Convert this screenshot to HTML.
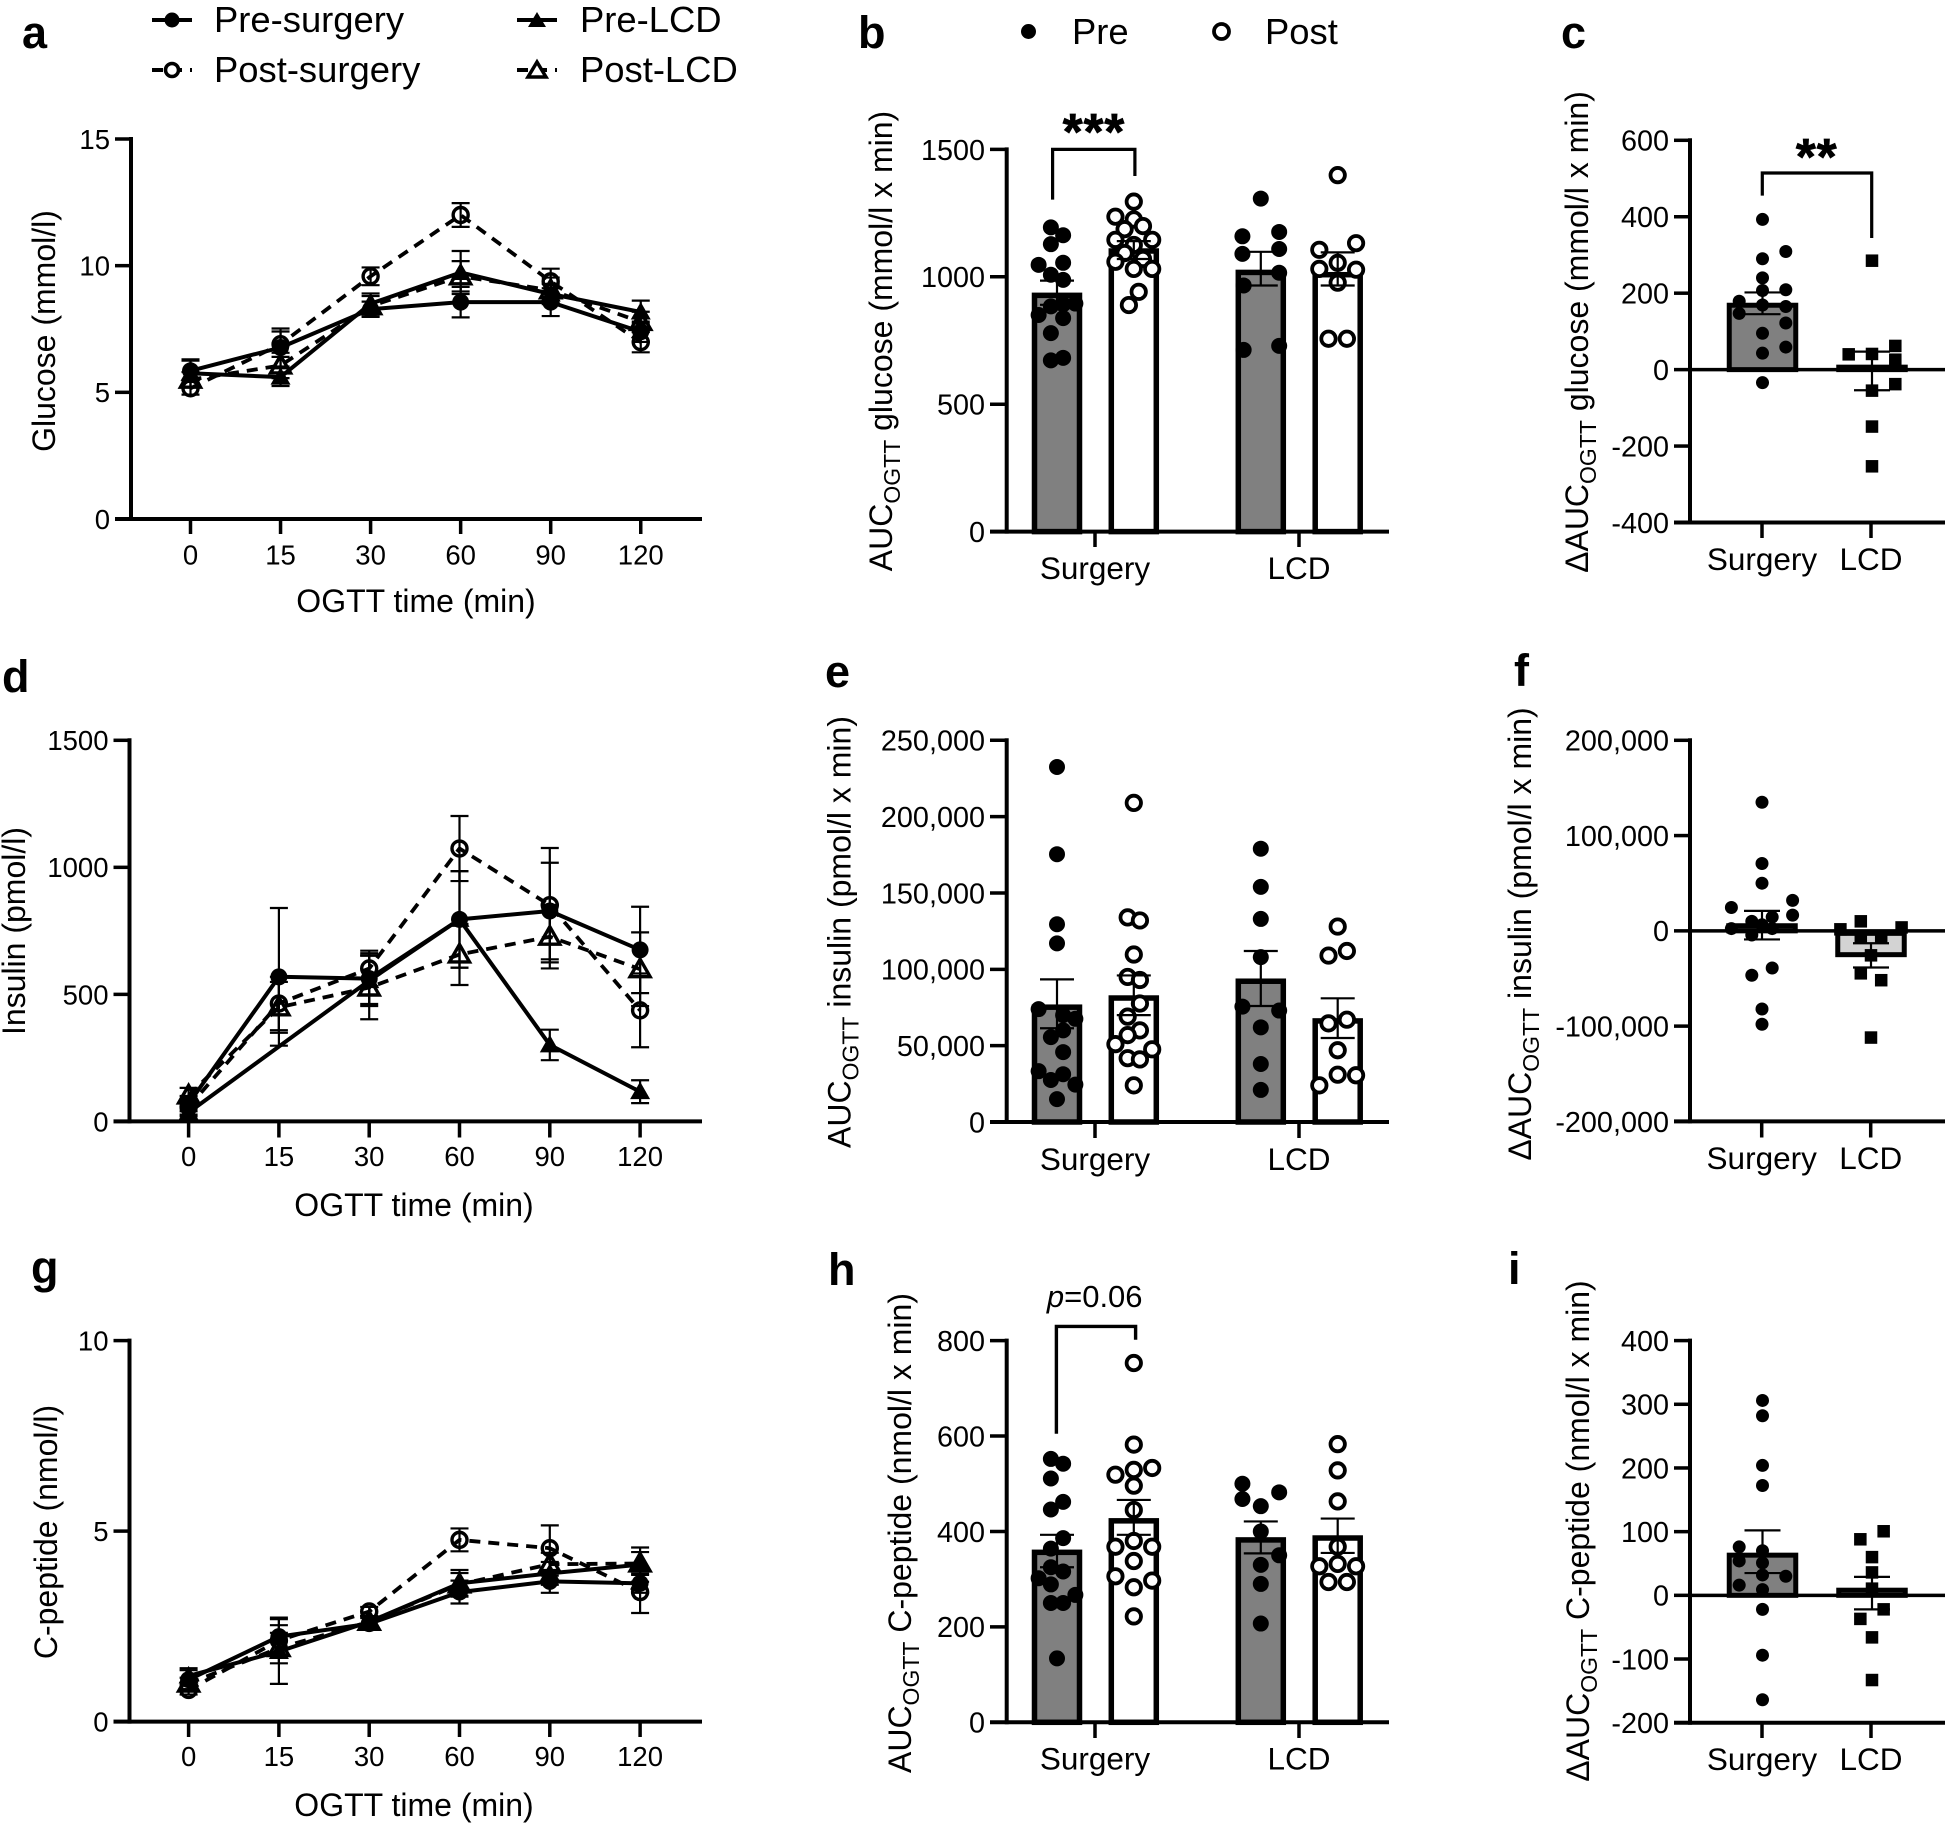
<!DOCTYPE html>
<html lang="en">
<head>
<meta charset="utf-8">
<title>OGTT glucose, insulin and C-peptide panels</title>
<style>
html,body{margin:0;padding:0;background:#fff;}
svg{display:block;}
text{font-family:"Liberation Sans",Arial,sans-serif;fill:#000;}
.letter{font-size:45px;font-weight:bold;}
.title{font-size:32px;}
.legend{font-size:36.4px;}
.stars{font-size:51px;font-weight:bold;text-anchor:middle;letter-spacing:1px;stroke:#000;stroke-width:0.8px;}
</style>
</head>
<body>
<svg id="fig" xmlns="http://www.w3.org/2000/svg" width="1947" height="1824" viewBox="0 0 1947 1824">
  <rect width="1947" height="1824" fill="#fff"/>

  <g>
    <text class="letter" x="22" y="48">a</text>
    <text class="letter" x="858" y="48">b</text>
    <text class="letter" x="1561" y="48">c</text>
    <text class="letter" x="2" y="692">d</text>
    <text class="letter" x="825" y="687">e</text>
    <text class="letter" x="1514" y="686">f</text>
    <text class="letter" x="31" y="1283">g</text>
    <text class="letter" x="828" y="1285">h</text>
    <text class="letter" x="1508" y="1284">i</text>
  </g>

  <g>
    <g>
      <line x1="152" y1="20" x2="192" y2="20" stroke="#000" stroke-width="4"/>
      <circle cx="172" cy="20" r="7.5" fill="#000"/>
      <text class="legend" x="214" y="32">Pre-surgery</text>
    </g>
    <g>
      <line x1="152" y1="70" x2="192" y2="70" stroke="#000" stroke-width="4" stroke-dasharray="11 8"/>
      <circle cx="172" cy="70" r="6.5" fill="#fff" stroke="#000" stroke-width="3.5"/>
      <text class="legend" x="214" y="82">Post-surgery</text>
    </g>
    <g>
      <line x1="517" y1="20" x2="557" y2="20" stroke="#000" stroke-width="4"/>
      <polygon points="537,12 546,27 528,27" fill="#000"/>
      <text class="legend" x="580" y="32">Pre-LCD</text>
    </g>
    <g>
      <line x1="517" y1="70" x2="557" y2="70" stroke="#000" stroke-width="4" stroke-dasharray="11 8"/>
      <polygon points="537,62 546,77 528,77" fill="#fff" stroke="#000" stroke-width="3.5"/>
      <text class="legend" x="580" y="82">Post-LCD</text>
    </g>
  </g>

  <g>
    <circle cx="1028.5" cy="31.5" r="7.5" fill="#000"/>
    <text class="legend" x="1072" y="44">Pre</text>
    <circle cx="1221.5" cy="31.5" r="7.5" fill="#fff" stroke="#000" stroke-width="3.8"/>
    <text class="legend" x="1265" y="44">Post</text>
  </g>

  <g>
    <text class="title" text-anchor="middle" transform="translate(55 331) rotate(-90)">Glucose (mmol/l)</text>
    <text class="title" text-anchor="middle" transform="translate(25 931) rotate(-90)">Insulin (pmol/l)</text>
    <text class="title" text-anchor="middle" transform="translate(57 1532) rotate(-90)">C-peptide (nmol/l)</text>
    <text class="title" text-anchor="middle" x="416" y="612">OGTT time (min)</text>
    <text class="title" text-anchor="middle" x="414" y="1216">OGTT time (min)</text>
    <text class="title" text-anchor="middle" x="414" y="1816">OGTT time (min)</text>

    <text class="title" text-anchor="middle" transform="translate(892 341) rotate(-90)">AUC<tspan font-size="23" dy="8">OGTT</tspan><tspan dy="-8"> glucose (mmol/l x min)</tspan></text>
    <text class="title" text-anchor="middle" transform="translate(850.5 932) rotate(-90)">AUC<tspan font-size="23" dy="8">OGTT</tspan><tspan dy="-8"> insulin (pmol/l x min)</tspan></text>
    <text class="title" text-anchor="middle" transform="translate(911 1533) rotate(-90)">AUC<tspan font-size="23" dy="8">OGTT</tspan><tspan dy="-8"> C-peptide (nmol/l x min)</tspan></text>

    <text class="title" text-anchor="middle" transform="translate(1588 332) rotate(-90)">ΔAUC<tspan font-size="23" dy="8">OGTT</tspan><tspan dy="-8"> glucose (mmol/l x min)</tspan></text>
    <text class="title" text-anchor="middle" transform="translate(1531 934) rotate(-90)">ΔAUC<tspan font-size="23" dy="8">OGTT</tspan><tspan dy="-8"> insulin (pmol/l x min)</tspan></text>
    <text class="title" text-anchor="middle" transform="translate(1589 1531) rotate(-90)">ΔAUC<tspan font-size="23" dy="8">OGTT</tspan><tspan dy="-8"> C-peptide (nmol/l x min)</tspan></text>
  </g>

  <g id="charts"></g>

  <g>
    <polyline points="1052.6,199.6 1052.6,149.4 1134.9,149.4 1134.9,176" fill="none" stroke="#000" stroke-width="3.2"/>
    <text class="stars" x="1094" y="149">***</text>
    <polyline points="1762.3,195.6 1762.3,173 1871.7,173 1871.7,238" fill="none" stroke="#000" stroke-width="3.2"/>
    <text class="stars" x="1816.7" y="174">**</text>
    <polyline points="1056.4,1433.7 1056.4,1326.4 1135.6,1326.4 1135.6,1339.8" fill="none" stroke="#000" stroke-width="3.4"/>
    <text font-size="31" text-anchor="middle" x="1094.7" y="1307"><tspan font-style="italic">p</tspan>=0.06</text>
  </g>
</svg>

<script>
/* ---------- shared categories ---------- */
const timeLabels = ['0', '15', '30', '60', '90', '120'];
const barGroupLabels = ['Surgery', 'LCD'];

/* ---------- a: glucose time course ---------- */
const glucoseTicks = [0, 5, 10, 15];
const glucosePreSurgery = [5.85, 6.77, 8.28, 8.56, 8.56, 7.39];
const glucosePostSurgery = [5.16, 6.9, 9.58, 12.0, 9.38, 6.98];
const glucosePreLcd = [5.75, 5.6, 8.5, 9.73, 8.88, 8.17];
const glucosePostLcd = [5.5, 6.06, 8.4, 9.58, 9.03, 7.78];
const glucosePreSurgerySem = [0.4, 0.75, 0.3, 0.6, 0.55, 0.4];
const glucosePostSurgerySem = [0.25, 0.5, 0.35, 0.47, 0.5, 0.4];
const glucosePreLcdSem = [0.55, 0.35, 0.4, 0.85, 0.4, 0.45];
const glucosePostLcdSem = [0.3, 0.5, 0.4, 0.6, 0.5, 0.4];

/* ---------- d: insulin time course ---------- */
const insulinTicks = [0, 500, 1000, 1500];
const insulinPreSurgery = [70, 569, 562, 795, 828, 675];
const insulinPostSurgery = [57, 464, 602, 1074, 851, 437];
const insulinPreLcd = [35, null, 554, 795, 301, 117];
const insulinPostLcd = [102, 449, 527, 657, 727, 599];
const insulinPreSurgerySem = [30, 271, 100, 190, 190, 170];
const insulinPostSurgerySem = [30, 105, 70, 128, 225, 145];
const insulinPreLcdSem = [15, null, 100, 190, 60, 45];
const insulinPostLcdSem = [30, 100, 125, 120, 125, 145];

/* ---------- g: C-peptide time course ---------- */
const cpepTicks = [0, 5, 10];
const cpepPreSurgery = [1.1, 2.23, 2.57, 3.4, 3.68, 3.63];
const cpepPostSurgery = [0.83, 2.13, 2.89, 4.77, 4.55, 3.4];
const cpepPreLcd = [1.2, 1.84, 2.62, 3.63, 3.89, 4.12];
const cpepPostLcd = [1.0, 1.93, 2.62, 3.6, 4.13, 4.15];
const cpepPreSurgerySem = [0.25, 0.5, 0.15, 0.3, 0.3, 0.25];
const cpepPostSurgerySem = [0.12, 0.4, 0.12, 0.3, 0.6, 0.55];
const cpepPreLcdSem = [0.2, 0.85, 0.15, 0.35, 0.3, 0.45];
const cpepPostLcdSem = [0.15, 0.4, 0.15, 0.3, 0.3, 0.3];

/* ---------- b: AUC glucose ---------- */
const aucGlucoseTicks = [0, 500, 1000, 1500];
const aucGlucoseMeans = [938, 1112, 1028, 1019];
const aucGlucoseErrHigh = [985, 1140, 1098, 1096];
const aucGlucoseErrLow = [890, 1070, 966, 966];
const aucGlucosePreSurgery = [1194, 1163, 1128, 1047, 1055, 1008, 988, 884, 892, 895, 850, 838, 779, 672, 682];
const aucGlucosePreSurgerySwarm = [-0.5, 0.5, -0.5, -1.5, 0.5, -0.5, 0.5, -0.5, 0.5, 1.5, -1.5, 0.5, -0.5, -0.5, 0.5];
const aucGlucosePostSurgery = [1295, 1236, 1225, 1199, 1187, 1145, 1145, 1125, 1093, 1059, 1070, 1031, 1031, 941, 889];
const aucGlucosePostSurgerySwarm = [0, -1.5, 0, 0.75, -0.75, -1.5, 1.5, 0, -0.75, -1.5, 0.75, 0, 1.5, 0.4, -0.4];
const aucGlucosePreLcd = [1307, 1159, 1176, 1090, 1109, 1016, 966, 713, 729];
const aucGlucosePreLcdSwarm = [0, -1.5, 1.5, -1.5, 1.5, 1.5, -1.4, -1.4, 1.5];
const aucGlucosePostLcd = [1399, 1106, 1132, 1055, 1031, 1028, 977, 757, 757];
const aucGlucosePostLcdSwarm = [0, -1.5, 1.5, 0, -1.5, 1.5, 0, -0.75, 0.75];

/* ---------- e: AUC insulin ---------- */
const aucInsulinTicks = [0, 50000, 100000, 150000, 200000, 250000];
const aucInsulinMeans = [77000, 83000, 94000, 68000];
const aucInsulinErrHigh = [93400, 96000, 112000, 81000];
const aucInsulinErrLow = [61400, 70000, 76000, 55000];
const aucInsulinPreSurgery = [232500, 175400, 129500, 117000, 73900, 70000, 67600, 60000, 55600, 45800, 33300, 31300, 27500, 24500, 15000];
const aucInsulinPreSurgerySwarm = [0, 0, 0, 0, -1.5, 0.5, 1.5, 0.5, -0.5, 0.5, -1.5, 0.5, -0.5, 1.5, 0];
const aucInsulinPostSurgery = [209000, 134000, 132000, 109700, 95000, 93000, 77600, 69000, 60000, 56900, 51000, 47600, 41800, 41000, 24000];
const aucInsulinPostSurgerySwarm = [0, -0.5, 0.5, 0, -0.5, 0.5, 0.5, -0.5, 0.5, -0.5, -1.5, 1.5, -0.5, 0.5, 0];
const aucInsulinPreLcd = [179000, 154000, 133000, 108000, 75600, 73000, 62000, 38000, 21000];
const aucInsulinPreLcdSwarm = [0, 0, 0, 0, -1.5, 1.5, 0, 0, 0];
const aucInsulinPostLcd = [128000, 112000, 109000, 64600, 67000, 47000, 31000, 30600, 24000];
const aucInsulinPostLcdSwarm = [0, 0.75, -0.75, -0.75, 0.75, 0, 0, 1.5, -1.5];

/* ---------- h: AUC C-peptide ---------- */
const aucCpepTicks = [0, 200, 400, 600, 800];
const aucCpepMeans = [362, 428, 388, 392];
const aucCpepErrHigh = [393, 466, 421, 427];
const aucCpepErrLow = [325, 393, 354, 355];
const aucCpepPreSurgery = [552, 542, 511, 462, 446, 386, 364, 325, 316, 302, 289, 267, 250, 250, 134];
const aucCpepPreSurgerySwarm = [-0.5, 0.5, -0.5, 0.5, -0.5, 0.5, -0.5, -0.5, 0.5, -1.5, -0.5, 1.5, -0.5, 0.5, 0];
const aucCpepPostSurgery = [753, 582, 519, 529, 533, 496, 445, 380, 368, 368, 338, 306, 297, 283, 222];
const aucCpepPostSurgerySwarm = [0, 0, -1.5, 0, 1.5, 0, 0, 0, -1.5, 1.5, 0, -1.5, 1.5, 0, 0];
const aucCpepPreLcd = [500, 468, 482, 453, 400, 350, 330, 290, 207];
const aucCpepPreLcdSwarm = [-1.5, -1.5, 1.5, 0, 0, 1.5, 0, 0, 0];
const aucCpepPostLcd = [583, 528, 463, 368, 332, 327, 327, 294, 294];
const aucCpepPostLcdSwarm = [0, 0, 0, 0, 0, -1.5, 1.5, -0.75, 0.75];

/* ---------- c: delta AUC glucose ---------- */
const deltaGlucoseTicks = [-400, -200, 0, 200, 400, 600];
const deltaGlucoseMeans = [175, 13];
const deltaGlucoseErrHigh = [202, 47];
const deltaGlucoseErrLow = [145, -54];
const deltaGlucoseSurgery = [393, 309, 290, 240, 207, 209, 179, 169, 165, 147, 122, 95, 59, 43, -34];
const deltaGlucoseSurgerySwarm = [0, 1, 0, 0, 0, 1, -1, 0, 1, -1, 1, 0, 1, 0, 0];
const deltaGlucoseLcd = [285, 40, 41, 62, 26, -38, -55, -149, -253];
const deltaGlucoseLcdSwarm = [0, -1, 0, 1, 1, 1, 0, 0, 0];

/* ---------- f: delta AUC insulin ---------- */
const deltaInsulinTicks = [-200000, -100000, 0, 100000, 200000];
const deltaInsulinMeans = [8000, -25000];
const deltaInsulinErrHigh = [21000, -13000];
const deltaInsulinErrLow = [-9000, -38500];
const deltaInsulinSurgery = [135000, 70700, 50000, 32000, 24500, 16500, 14500, 10000, 6400, 2400, 2400, -4400, -39000, -46600, -82000, -98000];
const deltaInsulinSurgerySwarm = [0, 0, 0, 3, -3, 3, 1, -1, 0, 1, -3, -1, 1, -1, 0, 0];
const deltaInsulinLcd = [10000, 1600, 3600, -6800, -6800, -25700, -44600, -51800, -112000];
const deltaInsulinLcdSwarm = [-1, -3, 3, -1, 1, 0, -1, 1, 0];

/* ---------- i: delta AUC C-peptide ---------- */
const deltaCpepTicks = [-200, -100, 0, 100, 200, 300, 400];
const deltaCpepMeans = [67, 12];
const deltaCpepErrHigh = [102, 29];
const deltaCpepErrLow = [35, -22];
const deltaCpepSurgery = [306, 282, 204, 172.5, 76, 70, 54, 51, 32, 30, 16, 9, -22, -94, -164];
const deltaCpepSurgerySwarm = [0, 0, 0, 0, -1, 0, -1, 0, 0, 1, -1, 0, 0, 0, 0];
const deltaCpepLcd = [100.6, 88, 60, 36, 10.5, -22, -37, -66, -133];
const deltaCpepLcdSwarm = [0.5, -0.5, 0, 0, 0, 0.5, -0.5, 0, 0];

/* ---------- drawing helpers ---------- */
const NS = 'http://www.w3.org/2000/svg';
const chartsRoot = document.getElementById('charts');

function make(tag, attrs, parent, text) {
  const node = document.createElementNS(NS, tag);
  for (const key in attrs) node.setAttribute(key, attrs[key]);
  if (text !== undefined) node.textContent = text;
  parent.appendChild(node);
  return node;
}

function linearScale(domMin, domMax, pxBottom, pxTop) {
  return function (v) { return pxBottom + (v - domMin) / (domMax - domMin) * (pxTop - pxBottom); };
}

function formatTick(v) { return Math.abs(v) >= 10000 ? v.toLocaleString('en-US') : String(v); }

function drawAxes(group, box, ticks, xPositions, xLabels) {
  const yScale = box.y;
  const minVal = ticks[0];
  const maxVal = ticks[ticks.length - 1];
  const yAxis = make('line', { x1: box.axisX, x2: box.axisX, y1: yScale(maxVal) - 2, y2: yScale(minVal) + 2, stroke: '#000', 'stroke-width': 4 }, group);
  
  
  const xAxis = make('line', { x1: box.tickLeft, x2: box.xEnd, y1: yScale(minVal), y2: yScale(minVal), stroke: '#000', 'stroke-width': 4 }, group);
  
  
  ticks.forEach(function (tick) {
    const py = yScale(tick);
    const tickMark = make('line', { x1: box.tickLeft, x2: box.axisX, y1: py, y2: py, stroke: '#000', 'stroke-width': 3.5 }, group);
    
    
    const label = make('text', { x: box.tickLeft - 5, y: py + box.yLabelSize * 0.36, 'text-anchor': 'end', 'font-size': box.yLabelSize }, group, formatTick(tick));
    
    
    if (tick === 0 && minVal < 0) {
      const zeroLine = make('line', { x1: box.axisX, x2: box.xEnd, y1: py, y2: py, stroke: '#000', 'stroke-width': 3.5 }, group);
      
      
      group.appendChild(zeroLine);
    }
  });
  xPositions.forEach(function (px, i) {
    const tickMark = make('line', { x1: px, x2: px, y1: yScale(minVal), y2: box.tickBottom, stroke: '#000', 'stroke-width': 3.5 }, group);
    
    
    const label = make('text', { x: px, y: box.xLabelBase, 'text-anchor': 'middle', 'font-size': box.xLabelSize }, group, xLabels[i]);
    
    
  });
}

function drawErrorBar(group, px, yHigh, yLow, capHalf, width, name) {
  const stem = make('line', { x1: px, x2: px, y1: yHigh, y2: yLow, stroke: '#000', 'stroke-width': width }, group);
  
  
  const capTop = make('line', { x1: px - capHalf, x2: px + capHalf, y1: yHigh, y2: yHigh, stroke: '#000', 'stroke-width': width }, group);
  
  
  const capBottom = make('line', { x1: px - capHalf, x2: px + capHalf, y1: yLow, y2: yLow, stroke: '#000', 'stroke-width': width }, group);
  
  
}

function drawTimeSeries(group, box, xOf, series) {
  const seriesGroup = make('g', {}, group);
  
  
  const points = [];
  series.values.forEach(function (v, i) {
    if (v !== null) points.push(xOf(i).toFixed(1) + ',' + box.y(v).toFixed(1));
  });
  const line = make('polyline', { points: points.join(' '), fill: 'none', stroke: '#000', 'stroke-width': series.dashed ? 3.8 : 4, 'stroke-dasharray': series.dashed ? '11 8' : 'none', 'stroke-linejoin': 'round' }, seriesGroup);
  
  
  series.values.forEach(function (v, i) {
    if (v === null) return;
    const px = xOf(i);
    const py = box.y(v);
    const sem = series.sem[i];
    drawErrorBar(seriesGroup, px, box.y(v + sem), box.y(v - sem), 9, 2.2, series.name);
    let marker;
    const fill = series.open ? 'none' : '#000';
    const stroke = series.open ? '#000' : 'none';
    if (series.shape === 'circle') {
      marker = make('circle', { cx: px, cy: py, r: series.open ? 7.5 : 8.5, fill: fill, stroke: stroke, 'stroke-width': 3.4 }, seriesGroup);
    } else {
      const tri = (px) + ',' + (py - 10) + ' ' + (px + 10) + ',' + (py + 7.5) + ' ' + (px - 10) + ',' + (py + 7.5);
      marker = make('polygon', { points: tri, fill: fill, stroke: stroke, 'stroke-width': 3.4 }, seriesGroup);
    }
    
    
  });
}

function drawTimePanel(name, box, ticks, seriesList) {
  const group = make('g', {}, chartsRoot);
  
  
  const xOf = function (i) { return box.firstX + i * box.stepX; };
  const xPositions = timeLabels.map(function (_, i) { return xOf(i); });
  seriesList.forEach(function (s) { drawTimeSeries(group, box, xOf, s); });
  drawAxes(group, box, ticks, xPositions, timeLabels);
}

function drawBarPanel(name, box, ticks, tickPositions, bars) {
  const group = make('g', {}, chartsRoot);
  
  
  const zeroY = box.y(0);
  bars.forEach(function (bar) {
    const top = Math.min(box.y(bar.mean), zeroY);
    const bottom = Math.max(box.y(bar.mean), zeroY);
    const sw = box.barStroke;
    const rect = make('rect', { x: bar.cx - box.barWidth / 2 + sw / 2, y: top + sw / 2, width: box.barWidth - sw, height: Math.max(bottom - top - sw / 2, 0), fill: bar.fill, stroke: '#000', 'stroke-width': sw }, group);
    
    
  });
  drawAxes(group, box, ticks, tickPositions, barGroupLabels);
  bars.forEach(function (bar) {
    bar.points.forEach(function (v, i) {
      const px = bar.cx + bar.swarm[i] * box.swarmUnit;
      const py = box.y(v);
      let dot;
      if (bar.marker === 'square') {
        dot = make('rect', { x: px - 6.25, y: py - 6.25, width: 12.5, height: 12.5, fill: '#000' }, group);
      } else if (bar.marker === 'open') {
        dot = make('circle', { cx: px, cy: py, r: box.dotRadius - 0.8, fill: '#fff', stroke: '#000', 'stroke-width': 3.8 }, group);
      } else {
        dot = make('circle', { cx: px, cy: py, r: box.dotRadius, fill: '#000' }, group);
      }
      
      
    });
    drawErrorBar(group, bar.cx, box.y(bar.errHigh), box.y(bar.errLow), box.capHalf, 2.2, bar.name);
  });
}

function fourBars(means, high, low, groups) {
  const ids = ['pre-surgery', 'post-surgery', 'pre-lcd', 'post-lcd'];
  const centers = [1057, 1133.8, 1260.8, 1337.7];
  return ids.map(function (id, i) {
    const pre = i % 2 === 0;
    return { name: id, cx: centers[i], mean: means[i], errHigh: high[i], errLow: low[i], fill: pre ? '#808080' : '#fff', marker: pre ? 'filled' : 'open', points: groups[i][0], swarm: groups[i][1] };
  });
}

function twoBars(means, high, low, surgery, surgerySwarm, lcd, lcdSwarm, cxLeft, cxRight, lcdFill, leftFill) {
  return [
    { name: 'surgery', cx: cxLeft, mean: means[0], errHigh: high[0], errLow: low[0], fill: leftFill, marker: 'filled', points: surgery, swarm: surgerySwarm },
    { name: 'lcd', cx: cxRight, mean: means[1], errHigh: high[1], errLow: low[1], fill: lcdFill, marker: 'square', points: lcd, swarm: lcdSwarm }
  ];
}

function fourSeries(pre, post, preLcd, postLcd, preSem, postSem, preLcdSem, postLcdSem) {
  return [
    { name: 'pre-surgery', values: pre, sem: preSem, dashed: false, open: false, shape: 'circle' },
    { name: 'post-surgery', values: post, sem: postSem, dashed: true, open: true, shape: 'circle' },
    { name: 'pre-lcd', values: preLcd, sem: preLcdSem, dashed: false, open: false, shape: 'triangle' },
    { name: 'post-lcd', values: postLcd, sem: postLcdSem, dashed: true, open: true, shape: 'triangle' }
  ];
}

/* ---------- panels ---------- */
drawTimePanel('glucose-time-course-chart',
  { axisX: 131, tickLeft: 115, xEnd: 702, tickBottom: 534, xLabelBase: 564.5, xLabelSize: 27.5, yLabelSize: 27.5, firstX: 190.5, stepX: 90.05, y: linearScale(0, 15, 519, 139) },
  glucoseTicks,
  fourSeries(glucosePreSurgery, glucosePostSurgery, glucosePreLcd, glucosePostLcd, glucosePreSurgerySem, glucosePostSurgerySem, glucosePreLcdSem, glucosePostLcdSem));

drawTimePanel('insulin-time-course-chart',
  { axisX: 129.5, tickLeft: 113.5, xEnd: 702, tickBottom: 1137.5, xLabelBase: 1166, xLabelSize: 27.5, yLabelSize: 27.5, firstX: 188.6, stepX: 90.3, y: linearScale(0, 1500, 1121.4, 740.3) },
  insulinTicks,
  fourSeries(insulinPreSurgery, insulinPostSurgery, insulinPreLcd, insulinPostLcd, insulinPreSurgerySem, insulinPostSurgerySem, insulinPreLcdSem, insulinPostLcdSem));

drawTimePanel('c-peptide-time-course-chart',
  { axisX: 129.5, tickLeft: 113.5, xEnd: 702, tickBottom: 1737, xLabelBase: 1766, xLabelSize: 27.5, yLabelSize: 27.5, firstX: 188.6, stepX: 90.3, y: linearScale(0, 10, 1721.6, 1340.6) },
  cpepTicks,
  fourSeries(cpepPreSurgery, cpepPostSurgery, cpepPreLcd, cpepPostLcd, cpepPreSurgerySem, cpepPostSurgerySem, cpepPreLcdSem, cpepPostLcdSem));

const aucLayout = { axisX: 1006.7, tickLeft: 990, xEnd: 1389, xLabelSize: 31.5, yLabelSize: 28.8, barWidth: 50.5, barStroke: 5.5, swarmUnit: 12.25, dotRadius: 8, capHalf: 17 };

drawBarPanel('auc-glucose-chart',
  Object.assign({}, aucLayout, { tickBottom: 547, xLabelBase: 579, y: linearScale(0, 1500, 531.6, 149.4) }),
  aucGlucoseTicks, [1095, 1299],
  fourBars(aucGlucoseMeans, aucGlucoseErrHigh, aucGlucoseErrLow, [
    [aucGlucosePreSurgery, aucGlucosePreSurgerySwarm],
    [aucGlucosePostSurgery, aucGlucosePostSurgerySwarm],
    [aucGlucosePreLcd, aucGlucosePreLcdSwarm],
    [aucGlucosePostLcd, aucGlucosePostLcdSwarm]
  ]));

drawBarPanel('auc-insulin-chart',
  Object.assign({}, aucLayout, { tickBottom: 1138, xLabelBase: 1170, y: linearScale(0, 250000, 1122, 740.3) }),
  aucInsulinTicks, [1095, 1299],
  fourBars(aucInsulinMeans, aucInsulinErrHigh, aucInsulinErrLow, [
    [aucInsulinPreSurgery, aucInsulinPreSurgerySwarm],
    [aucInsulinPostSurgery, aucInsulinPostSurgerySwarm],
    [aucInsulinPreLcd, aucInsulinPreLcdSwarm],
    [aucInsulinPostLcd, aucInsulinPostLcdSwarm]
  ]));

drawBarPanel('auc-c-peptide-chart',
  Object.assign({}, aucLayout, { tickBottom: 1738, xLabelBase: 1769.5, y: linearScale(0, 800, 1722.3, 1340.6) }),
  aucCpepTicks, [1095, 1299],
  fourBars(aucCpepMeans, aucCpepErrHigh, aucCpepErrLow, [
    [aucCpepPreSurgery, aucCpepPreSurgerySwarm],
    [aucCpepPostSurgery, aucCpepPostSurgerySwarm],
    [aucCpepPreLcd, aucCpepPreLcdSwarm],
    [aucCpepPostLcd, aucCpepPostLcdSwarm]
  ]));

const deltaLayout = { axisX: 1690, tickLeft: 1674, xEnd: 1945, xLabelSize: 31.5, yLabelSize: 28.8, barWidth: 71.5, barStroke: 5, dotRadius: 6.5, capHalf: 18 };

drawBarPanel('delta-auc-glucose-chart',
  Object.assign({}, deltaLayout, { swarmUnit: 23.3, tickBottom: 538, xLabelBase: 570, y: linearScale(-400, 600, 522.5, 140.3) }),
  deltaGlucoseTicks, [1762, 1871],
  twoBars(deltaGlucoseMeans, deltaGlucoseErrHigh, deltaGlucoseErrLow, deltaGlucoseSurgery, deltaGlucoseSurgerySwarm, deltaGlucoseLcd, deltaGlucoseLcdSwarm, 1762.5, 1872, '#d3d3d3', '#808080'));

drawBarPanel('delta-auc-insulin-chart',
  Object.assign({}, deltaLayout, { swarmUnit: 10.2, tickBottom: 1137.5, xLabelBase: 1169, y: linearScale(-200000, 200000, 1121.4, 740.3) }),
  deltaInsulinTicks, [1761.7, 1870.7],
  twoBars(deltaInsulinMeans, deltaInsulinErrHigh, deltaInsulinErrLow, deltaInsulinSurgery, deltaInsulinSurgerySwarm, deltaInsulinLcd, deltaInsulinLcdSwarm, 1762, 1871, '#d3d3d3', '#808080'));

drawBarPanel('delta-auc-c-peptide-chart',
  Object.assign({}, deltaLayout, { swarmUnit: 23.3, tickBottom: 1738, xLabelBase: 1770, y: linearScale(-200, 400, 1722.7, 1340.6) }),
  deltaCpepTicks, [1762, 1871],
  twoBars(deltaCpepMeans, deltaCpepErrHigh, deltaCpepErrLow, deltaCpepSurgery, deltaCpepSurgerySwarm, deltaCpepLcd, deltaCpepLcdSwarm, 1762.5, 1872, '#d3d3d3', '#808080'));
</script>
</body>
</html>
